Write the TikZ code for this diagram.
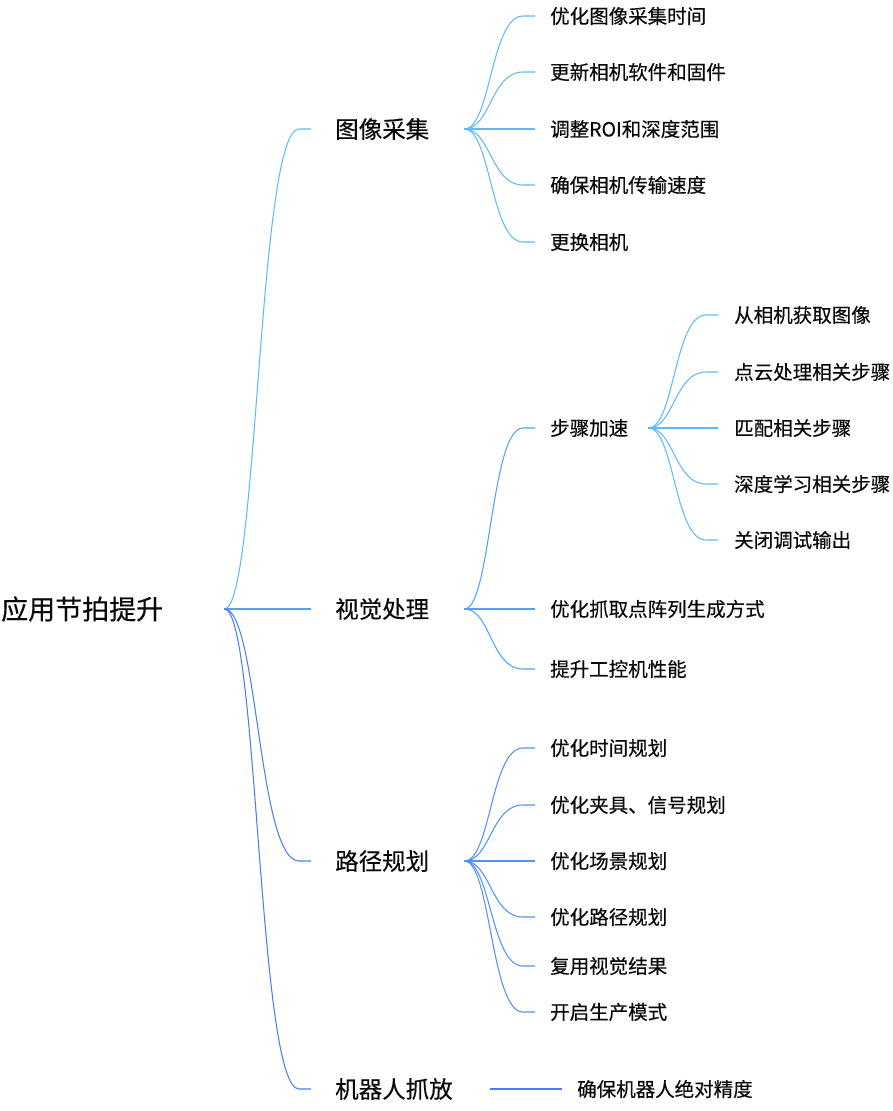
\documentclass[tikz,border=0pt]{standalone}
\usepackage{fontspec}
\setmainfont[FakeBold=0.4]{Noto Sans CJK SC}
\usetikzlibrary{calc}
\definecolor{cA}{RGB}{95,185,255}
\definecolor{cB}{RGB}{82,160,255}
\definecolor{cC}{RGB}{80,145,250}
\definecolor{cD}{RGB}{75,125,245}
\definecolor{txtc}{RGB}{10,10,10}
\begin{document}
\begin{tikzpicture}[x=1pt,y=-1pt,
  txt/.style={inner sep=0pt, anchor=west, text=txtc},
  rootnode/.style={txt, font=\fontsize{27}{30}\selectfont},
  lone/.style={txt, font=\fontsize{23.5}{26}\selectfont},
  ltwo/.style={txt, font=\fontsize{19.5}{22}\selectfont},
  branch/.style={line width=1.05pt, to path={let \p1=(\tikztostart), \p2=(\tikztotarget) in
     .. controls ({\x1+0.45*(\x2-\x1-12pt)},\y1) and ({\x1+0.45*(\x2-\x1-12pt)},\y2) .. (\x2-12pt,\y2) -- (\tikztotarget)}},
  straight/.style={line width=1.05pt}
]
\useasboundingbox (0,0) rectangle (893,1111);

% nodes
\node[rootnode] (root) at (1,609) {应用节拍提升};
\node[lone] (a) at (335,129) {图像采集};
\node[lone] (b) at (335,609) {视觉处理};
\node[lone] (c) at (335,861) {路径规划};
\node[lone] (d) at (335,1089) {机器人抓放};

\node[ltwo] (a1) at (550,16) {优化图像采集时间};
\node[ltwo] (a2) at (550,72) {更新相机软件和固件};
\node[ltwo] (a3) at (550,129) {调整ROI和深度范围};
\node[ltwo] (a4) at (550,185) {确保相机传输速度};
\node[ltwo] (a5) at (550,242) {更换相机};

\node[ltwo] (b1) at (550,428) {步骤加速};
\node[ltwo] (b2) at (550,609) {优化抓取点阵列生成方式};
\node[ltwo] (b3) at (550,669) {提升工控机性能};

\node[ltwo] (b11) at (734,315) {从相机获取图像};
\node[ltwo] (b12) at (734,372) {点云处理相关步骤};
\node[ltwo] (b13) at (734,428) {匹配相关步骤};
\node[ltwo] (b14) at (734,484) {深度学习相关步骤};
\node[ltwo] (b15) at (734,540) {关闭调试输出};

\node[ltwo] (c1) at (550,748) {优化时间规划};
\node[ltwo] (c2) at (550,805) {优化夹具、信号规划};
\node[ltwo] (c3) at (550,861) {优化场景规划};
\node[ltwo] (c4) at (550,917) {优化路径规划};
\node[ltwo] (c5) at (550,966) {复用视觉结果};
\node[ltwo] (c6) at (550,1012) {开启生产模式};

\node[ltwo] (d1) at (577,1089) {确保机器人绝对精度};

% connector origins
\coordinate (ro) at ([xshift=61pt]root.east);
\coordinate (ao) at ([xshift=35pt]a.east);
\coordinate (bo) at ([xshift=35pt]b.east);
\coordinate (co) at ([xshift=35pt]c.east);
\coordinate (do) at ([xshift=37.5pt]d.east);
\coordinate (b1o) at ([xshift=20pt]b1.east);

% root connectors
\draw[branch,cA] (ro) to ([xshift=-24pt]a.west);
\draw[branch,cB] (ro) to ([xshift=-24pt]b.west);
\draw[branch,cD] (ro) to ([xshift=-24pt]c.west);
\draw[branch,cD] (ro) to ([xshift=-24pt]d.west);

% image acquisition
\foreach \n in {a1,a2,a3,a4,a5}
  \draw[branch,cA] (ao) to ([xshift=-15pt]\n.west);

% vision processing
\foreach \n in {b1,b2,b3}
  \draw[branch,cB] (bo) to ([xshift=-15pt]\n.west);
\foreach \n in {b11,b12,b13,b14,b15}
  \draw[branch,cA] (b1o) to ([xshift=-16pt]\n.west);

% path planning
\foreach \n in {c1,c2,c3,c4,c5,c6}
  \draw[branch,cC] (co) to ([xshift=-15pt]\n.west);

% robot pick and place
\draw[straight,cD] (do) -- ([xshift=-15pt]d1.west);
\end{tikzpicture}
\end{document}
